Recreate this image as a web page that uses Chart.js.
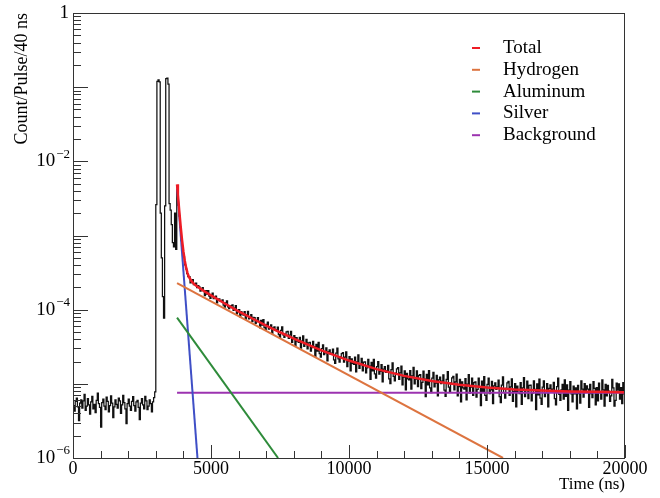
<!DOCTYPE html>
<html>
<head>
<meta charset="utf-8">
<script src="https://cdn.jsdelivr.net/npm/chart.js@4.4.1/dist/chart.umd.min.js"></script>
<style>
  html, body { margin: 0; padding: 0; background: #fff; }
  #wrap { width: 660px; height: 498px; }
</style>
</head>
<body>
<div id="wrap"><canvas id="muChart" width="660" height="498"></canvas></div>
<script>
// counts are stored in units of 1e-6 count/pulse per 40 ns bin
const UNIT = 1e-6;
const binWidth = 40;

// before the beam pulse (0 - 3000 ns)
const preStart = 0;
const preCounts = [
  5.1, 4.3, 5.8, 6.4, 4.9, 3.2, 5.5, 6.1, 4.7, 5.9,
  7.2, 4.4, 5.0, 6.3, 5.2, 3.9, 5.7, 6.8, 4.6, 5.3,
  4.1, 6.0, 7.5, 5.4, 4.8, 2.6, 5.6, 6.2, 5.0, 4.5,
  6.6, 5.8, 4.2, 5.1, 6.9, 5.5, 3.5, 4.9, 6.1, 5.3,
  4.7, 6.4, 5.9, 4.0, 5.2, 7.0, 5.6, 4.6, 2.9, 5.4,
  6.2, 5.0, 4.4, 5.8, 6.7, 5.1, 4.3, 5.7, 6.0, 4.8,
  3.3, 5.5, 6.3, 5.2, 4.6, 6.8, 5.9, 4.5, 5.0, 6.1,
  5.4, 4.2, 5.7, 6.5, 7.8
];

// double beam pulse (3000 - 3760 ns)
const pulseStart = 3000;
const pulseCounts = [
  2600, 120000, 125000, 118000, 2000, 500, 150, 77, 2500, 130000,
  132000, 110000, 2700, 2200, 1400, 800, 700, 2000, 650
];

// decay tail (3760 - 20000 ns)
const tailStart = 3760;
const tailCounts = [
  4120, 2570, 1820, 1290, 850, 656, 521, 401, 354, 307,
  278, 279, 230, 243, 255, 217, 218, 228, 198, 211,
  203, 178, 183, 198, 180, 155, 181, 162, 181, 152,
  142, 159, 167, 141, 143, 152, 123, 139, 140, 130,
  130, 136, 115, 108, 123, 131, 109, 103, 109, 113,
  116, 98, 105, 113, 88, 94, 100, 80, 94, 87,
  84.5, 94.4, 74, 85.2, 95.1, 74.9, 78.2, 86, 69.2, 78.5,
  78, 65.2, 68.9, 78.4, 69.5, 56.8, 71.7, 61.9, 73.6, 57.8,
  53.3, 63.2, 68.1, 54.8, 56.5, 62.5, 47.4, 56.9, 58.4, 52.7,
  53.7, 58.3, 45.9, 42.3, 52.4, 58.6, 45.7, 42.2, 47.2, 50.3,
  51.1, 41, 45.5, 50.9, 36.3, 40.6, 44.7, 32.5, 41.9, 37.7,
  36.2, 42.4, 30.4, 37.6, 44.2, 32, 34.4, 39.7, 29.5, 35.6,
  36.1, 27.7, 30.8, 37.4, 31.8, 23.4, 34, 27.7, 36.1, 25.5,
  22.9, 29.8, 33.5, 24.8, 26.1, 30.5, 20.4, 27.2, 28.6, 24.9,
  25.9, 29.3, 21.1, 18.8, 25.9, 30.4, 21.7, 19.6, 23.2, 25.6,
  26.3, 19.6, 22.9, 26.9, 17, 20.1, 23.3, 14.9, 21.7, 18.9,
  18.3, 23, 14.5, 19.8, 24.6, 16.2, 18.1, 22.1, 15, 19.6,
  19.8, 14, 16.4, 21.3, 17.3, 11.5, 19.4, 14.9, 21.3, 13.6,
  11.9, 17, 19.9, 13.5, 14.7, 18.1, 10.6, 15.8, 17, 14.3,
  15, 17.8, 11.7, 10.1, 15.5, 19.1, 12.6, 11, 13.9, 15.9,
  16.5, 11.5, 14.1, 17.3, 9.7, 12.3, 14.9, 8.3, 13.8, 11.7,
  11.3, 15.1, 8.5, 12.8, 16.7, 10, 11.6, 14.9, 9.2, 13,
  13.3, 8.6, 10.5, 14.8, 11.6, 6.7, 13.4, 9.7, 15.1, 8.8,
  7.6, 11.9, 14.3, 9.1, 10.2, 13, 6.9, 11.3, 12.3, 10.1,
  10.9, 13.2, 8.2, 6.8, 11.5, 14.6, 9, 7.7, 10.3, 12,
  12.6, 8.3, 10.6, 13.5, 6.9, 9.2, 11.5, 5.7, 10.6, 8.8,
  8.5, 11.8, 6.1, 9.9, 13.3, 7.5, 9, 11.9, 7, 10.4,
  10.6, 6.6, 8.4, 11.9, 9.2, 5.1, 10.9, 7.7, 12.5, 7,
  6, 9.8, 11.9, 7.4, 8.3, 10.8, 5.4, 9.4, 10.3, 8.4,
  9.1, 11.2, 6.7, 5.6, 9.6, 12.4, 7.6, 6.4, 8.7, 10.3,
  10.8, 7, 9.1, 11.7, 5.8, 7.9, 10.1, 4.9, 9.3, 7.7,
  7.4, 10.4, 5.3, 8.8, 12.1, 6.7, 8.1, 10.9, 6.3, 9.5,
  9.6, 5.9, 7.5, 11, 8.4, 4.5, 10, 7.1, 11.6, 6.4,
  5.3, 9, 11, 6.7, 7.6, 10.1, 4.9, 8.7, 9.7, 7.9,
  8.5, 10.5, 6.3, 5.2, 9.2, 11.9, 7.2, 6, 8.3, 9.8,
  6.2, 11.3, 6.8, 9.7, 4.4, 8.2, 10.7, 7.3, 5.7, 9.3,
  7.3, 8.8, 4.6, 9.5, 7.4, 5.5, 11, 8.5, 6.6, 10.1,
  7.6, 9.4, 8.5, 4.8, 9.8, 7.4, 6.5, 10.7, 8.7, 5.2,
  8.9, 5.9, 10.2, 7.6, 6.2, 11.3, 8.3, 5, 9.8, 6.9,
  9.5, 8, 5.8, 6.9, 11.5, 8.8, 5, 6, 10.2, 8.2,
  10, 6.2, 8.9, 5.4, 10.4, 7.3
];

// fit curves (time in ns, counts in 1e-6)
const fitLabels = ["Total", "Hydrogen", "Aluminum", "Silver", "Background"];
const fitColors = ["#ee1c25", "#dd7440", "#2e8b3a", "#3f4fc6", "#9c33b0"];
const totalTime = [3770, 3800, 3850, 3900, 3950, 4000, 4050, 4100, 4150, 4200, 4300, 4400, 4500,
  4750, 5000, 5500, 6000, 6500, 7000, 7500, 8000, 9000, 10000, 11000, 12000, 13000, 14000,
  15000, 16000, 17000, 18000, 19000, 20000];
const totalCounts = [4900, 3570, 2150, 1340, 876, 609, 456, 366, 311, 277, 240, 219, 205,
  178, 156, 121, 95, 76, 61, 49.6, 40.8, 28.2, 20.6, 15.8, 12.8, 10.9, 9.7,
  8.9, 8.4, 8.1, 7.9, 7.8, 7.7];
const hydrogenTime = [3770, 15580];
const hydrogenCounts = [228, 1];
const aluminumTime = [3770, 7430];
const aluminumCounts = [78, 1];
const silverTime = [3770, 4510];
const silverCounts = [4600, 1];
const backgroundTime = [3770, 20000];
const backgroundCounts = [7.6, 7.6];

// axes
const xLabelValues = [0, 5000, 10000, 15000, 20000];
const yLabelExps = [0, -2, -4, -6];

function binPoints(start, counts) {
  return counts.map((c, i) => ({ x: start + i * binWidth, y: c * UNIT }));
}
function curve(times, counts) {
  return times.map((t, i) => ({ x: t, y: counts[i] * UNIT }));
}

const histPoints = [].concat(
  binPoints(preStart, preCounts),
  binPoints(pulseStart, pulseCounts),
  binPoints(tailStart, tailCounts)
);
const lastBin = histPoints[histPoints.length - 1];
histPoints.push({ x: lastBin.x + binWidth, y: lastBin.y });

const fitData = [
  curve(totalTime, totalCounts),
  curve(hydrogenTime, hydrogenCounts),
  curve(aluminumTime, aluminumCounts),
  curve(silverTime, silverCounts),
  curve(backgroundTime, backgroundCounts)
];

const datasets = fitData.map((pts, i) => ({
  label: fitLabels[i],
  data: pts,
  borderColor: fitColors[i],
  borderWidth: i === 0 ? 2.5 : 2,
  pointRadius: 0,
  tension: 0,
  fill: false
}));
datasets.push({
  label: "Data",
  data: histPoints,
  borderColor: "#111",
  borderWidth: 1.25,
  pointRadius: 0,
  stepped: "before",
  fill: false
});

const SERIF = '"Liberation Serif", "Times New Roman", serif';

// frame, inner ticks, labels and legend in ROOT style
const rootDecor = {
  id: "rootDecor",
  afterDraw(chart) {
    const { ctx, chartArea: a, scales: { x, y } } = chart;
    ctx.save();
    ctx.strokeStyle = "#333";
    ctx.lineWidth = 1;
    ctx.strokeRect(a.left + 0.5, a.top + 0.5, a.right - a.left - 1, a.bottom - a.top);

    ctx.beginPath();
    for (let v = 0; v <= 20000; v += 1000) {
      const px = Math.round(x.getPixelForValue(v)) + 0.5;
      const len = v % 5000 === 0 ? 13 : 7;
      ctx.moveTo(px, a.bottom);
      ctx.lineTo(px, a.bottom - len);
    }
    for (let d = -6; d <= 0; d++) {
      for (let m = 1; m <= 9; m++) {
        if (d === 0 && m > 1) break;
        const py = Math.round(y.getPixelForValue(m * Math.pow(10, d))) + 0.5;
        const len = m === 1 ? 15 : 8;
        ctx.moveTo(a.left, py);
        ctx.lineTo(a.left + len, py);
      }
    }
    ctx.stroke();

    ctx.fillStyle = "#000";
    ctx.textBaseline = "middle";
    ctx.font = "18px " + SERIF;
    ctx.textAlign = "center";
    xLabelValues.forEach(v => {
      ctx.fillText(String(v), x.getPixelForValue(v), 469);
    });

    yLabelExps.forEach(e => {
      const py = y.getPixelForValue(Math.pow(10, e));
      ctx.textAlign = "right";
      if (e === 0) {
        ctx.font = "19px " + SERIF;
        ctx.fillText("1", 69, py);
      } else {
        const sup = "\u2212" + (-e);
        ctx.font = "13px " + SERIF;
        const w = ctx.measureText(sup).width;
        ctx.fillText(sup, 70, py - 7);
        ctx.font = "19px " + SERIF;
        ctx.fillText("10", 70 - w - 1, py);
      }
    });

    ctx.font = "17px " + SERIF;
    ctx.textAlign = "right";
    ctx.fillText("Time (ns)", a.right, 485);

    ctx.save();
    ctx.translate(22, a.top);
    ctx.rotate(-Math.PI / 2);
    ctx.font = "18px " + SERIF;
    ctx.textAlign = "right";
    ctx.fillText("Count/Pulse/40 ns", 0, 0);
    ctx.restore();

    // legend
    ctx.font = "19px " + SERIF;
    ctx.textAlign = "left";
    fitLabels.forEach((lab, i) => {
      const ly = 48 + i * 21.8;
      ctx.strokeStyle = fitColors[i];
      ctx.lineWidth = 2;
      ctx.beginPath();
      ctx.moveTo(472, ly);
      ctx.lineTo(480, ly);
      ctx.stroke();
      ctx.fillText(lab, 503, ly);
    });
    ctx.restore();
  }
};

new Chart(document.getElementById("muChart"), {
  type: "line",
  data: { datasets },
  options: {
    responsive: false,
    animation: false,
    events: [],
    layout: { padding: { top: 13, right: 35, left: 0, bottom: 0 } },
    plugins: { legend: { display: false }, tooltip: { enabled: false } },
    scales: {
      x: {
        type: "linear", min: 0, max: 20000,
        grid: { display: false }, border: { display: false },
        ticks: { display: false },
        afterFit(s) { s.height = 40; }
      },
      y: {
        type: "logarithmic", min: 1e-6, max: 1,
        grid: { display: false }, border: { display: false },
        ticks: { display: false },
        afterFit(s) { s.width = 73; }
      }
    }
  },
  plugins: [rootDecor]
});
</script>
</body>
</html>
